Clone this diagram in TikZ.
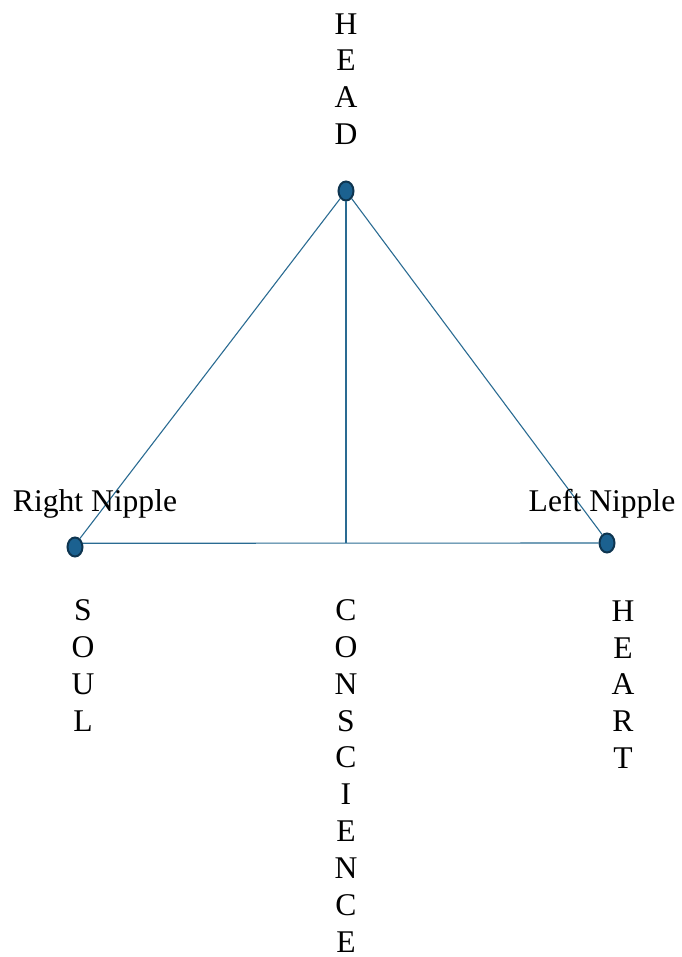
\documentclass[tikz,border=0pt]{standalone}
\usepackage{fontspec}
\setmainfont{Liberation Serif}
\usepackage{tikz}
\usetikzlibrary{positioning,shapes.geometric}
\definecolor{dotfill}{HTML}{1B6190}
\definecolor{dotedge}{HTML}{0E3550}
\definecolor{linkline}{HTML}{2A6B92}

\begin{document}
\begin{tikzpicture}[x=0.5pt, y=-0.5pt,
    point/.style={ellipse, draw=dotedge, fill=dotfill, line width=1pt,
        minimum width=7.5pt, minimum height=9.5pt, inner sep=0pt},
    link/.style={draw=linkline, line width=0.55pt},
    word/.style={font=\fontsize{15.8}{18.45}\selectfont, inner sep=0pt},
    column/.style={word, align=center, anchor=north}]
    \useasboundingbox (0,0) rectangle (681,957);

    % =========================================================
    % POINTS OF THE TRIANGLE
    % =========================================================
    \node[point] (head) at (346,191) {};
    \node[point] (rn) at (75,547) {};
    \node[point] (ln) at (607,543) {};
    \coordinate (foot) at (head |- ln.west);

    % Sides and middle line
    \draw[link] (head) -- (rn.60);
    \draw[link] (head) -- (ln.120);
    \draw[link] (rn.25) -- (ln.west);
    \draw[link] (head) -- (foot);

    % =========================================================
    % LABELS
    % =========================================================
    \node[word, anchor=base] (rnlabel) at (95,511) {Right Nipple};
    \node[word, anchor=base] (lnlabel) at (602,511) {Left Nipple};

    % Vertical words
    \node[column] (headword) at (346,13) {H\\E\\A\\D};
    \node[column] (soul) at (83,599) {S\\O\\U\\L};
    \node[column] (conscience) at (346,599) {C\\O\\N\\S\\C\\I\\E\\N\\C\\E};
    \node[column] (heart) at (623,600) {H\\E\\A\\R\\T};
\end{tikzpicture}
\end{document}
